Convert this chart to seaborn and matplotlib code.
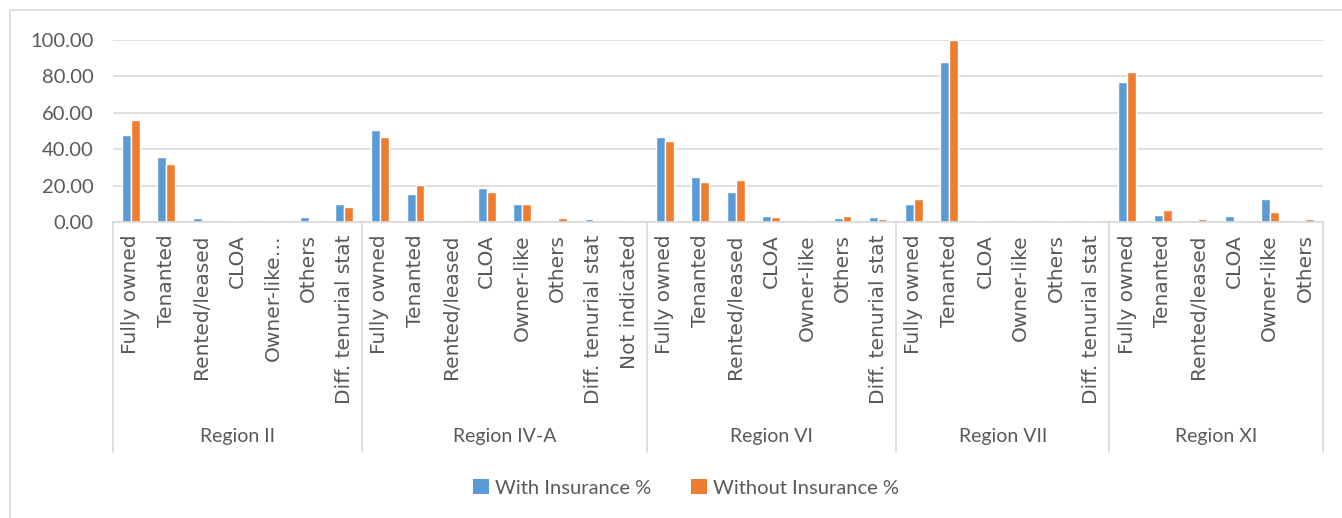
import numpy as np
import pandas as pd
import matplotlib
matplotlib.use("Agg")
import matplotlib.pyplot as plt
import matplotlib.transforms as mtransforms
from matplotlib.patches import Rectangle
import seaborn as sns

# ── data ─────────────────────────────────────────────────
regions = ["Region II", "Region IV-A", "Region VI", "Region VII", "Region XI"]
categories = [
    ["Fully owned", "Tenanted", "Rented/leased", "CLOA", "Owner-like…", "Others", "Diff. tenurial stat"],
    ["Fully owned", "Tenanted", "Rented/leased", "CLOA", "Owner-like", "Others", "Diff. tenurial stat", "Not indicated"],
    ["Fully owned", "Tenanted", "Rented/leased", "CLOA", "Owner-like", "Others", "Diff. tenurial stat"],
    ["Fully owned", "Tenanted", "CLOA", "Owner-like", "Others", "Diff. tenurial stat"],
    ["Fully owned", "Tenanted", "Rented/leased", "CLOA", "Owner-like", "Others"],
]
with_ins = [
    [47.6, 35.5, 2.0, 0.3, 0.0, 2.6, 9.9],
    [50.5, 15.4, 0.2, 18.9, 9.9, 1.1, 1.6, 0.0],
    [46.5, 24.5, 16.5, 3.5, 1.1, 2.2, 2.9],
    [9.9, 88.1, 0.5, 0.0, 0.0, 0.5],
    [76.9, 4.0, 1.1, 3.1, 12.6, 0.2],
]
without_ins = [
    [56.0, 31.9, 1.1, 0.3, 0.0, 0.3, 8.2],
    [46.9, 20.3, 0.6, 16.7, 10.1, 2.0, 0.2, 0.6],
    [44.3, 22.0, 23.1, 2.7, 0.1, 3.1, 1.8],
    [12.6, 100.0, 0.2, 0.0, 0.3, 0.3],
    [82.2, 6.4, 1.6, 0.6, 5.5, 1.6],
]
series = ["With Insurance %", "Without Insurance %"]
colors = ["#5B9BD5", "#ED7D31"]

# ── long table ───────────────────────────────────────────
rows = []
keys = []
labels = []
for r, cats, w, wo in zip(regions, categories, with_ins, without_ins):
    for c, a, b in zip(cats, w, wo):
        k = f"{r}|{c}"
        keys.append(k)
        labels.append(c)
        rows.append((k, series[0], a))
        rows.append((k, series[1], b))
df = pd.DataFrame(rows, columns=["key", "series", "value"])

# ── plot ─────────────────────────────────────────────────
sns.set_theme(style="white")
plt.rcParams["font.family"] = ["Lato", "DejaVu Sans"]
txt = "#595959"
grid = "#d9d9d9"

fig = plt.figure(figsize=(13.42, 5.18), dpi=100)
ax = fig.add_axes([113 / 1342, 1 - 222 / 518, 1210 / 1342, 182 / 518])

sns.barplot(data=df, x="key", y="value", hue="series", order=keys,
            hue_order=series, palette=colors, width=0.5,
            edgecolor="white", linewidth=1, saturation=1, ax=ax)

ax.set_xlim(-0.5, len(keys) - 0.5)
ax.set_ylim(0, 100)
ax.set_yticks(np.arange(0, 101, 20))
ax.set_yticklabels([f"{v:.2f}" for v in np.arange(0, 101, 20)])
ax.yaxis.grid(True, color=grid, lw=1.2)
ax.set_axisbelow(True)
ax.set_xticks(range(len(keys)))
ax.set_xticklabels(labels, rotation=90, family="DejaVu Sans", fontsize=14.5, color=txt)
ax.tick_params(axis="x", length=0, pad=9)
ax.tick_params(axis="y", length=0, pad=14, labelsize=14.5, labelcolor=txt)
ax.set_xlabel("")
ax.set_ylabel("")
for s in ["left", "top", "right"]:
    ax.spines[s].set_visible(False)
ax.spines["bottom"].set_color(grid)
ax.spines["bottom"].set_linewidth(1.2)

# region separators + labels
trans = mtransforms.blended_transform_factory(ax.transData, ax.transAxes)
start = -0.5
for r, cats in zip(regions, categories):
    end = start + len(cats)
    ax.plot([start, start], [0, -1.264], transform=trans, color=grid, lw=1.2, clip_on=False)
    ax.text((start + end) / 2, -1.176, r, transform=trans, ha="center", va="center",
            fontsize=14, color=txt)
    start = end
ax.plot([start, start], [0, -1.264], transform=trans, color=grid, lw=1.2, clip_on=False)

sns.move_legend(ax, "center", bbox_to_anchor=(0.4736, -1.46), ncol=2, frameon=False,
                title=None, fontsize=14.5, handlelength=0.8, handleheight=0.8,
                handletextpad=0.3, columnspacing=2.0)
leg = ax.get_legend()
for t in leg.get_texts():
    t.set_color(txt)
for h in leg.legend_handles:
    h.set_edgecolor("none")

# outer chart border
fig.patches.append(Rectangle((10 / 1342, -0.1), 2, 1.1 - 10.5 / 518, transform=fig.transFigure,
                             fill=False, edgecolor=grid, lw=1.2))

fig.savefig("out.png", dpi=100)
